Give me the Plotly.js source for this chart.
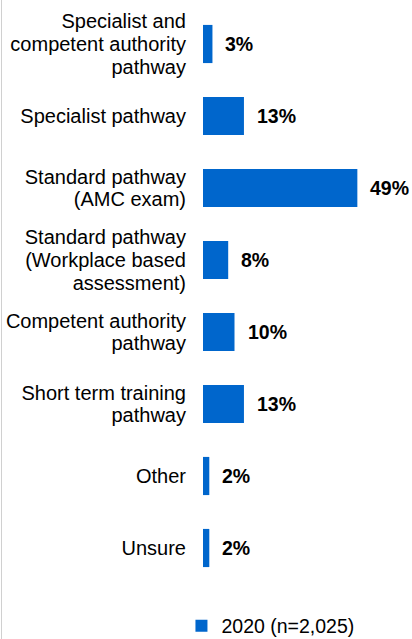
<!DOCTYPE html>
<html>
<head>
<meta charset="utf-8">
<script src="https://cdn.plot.ly/plotly-3.0.1.min.js"></script>
<style>
html,body{margin:0;padding:0;background:#fff;overflow:hidden;}
#wrap{position:relative;width:412px;height:639px;overflow:hidden;}
#chart{width:412px;height:670px;}
#edge{position:absolute;left:1px;top:0;width:1px;height:639px;background:#d0d0d0;}
</style>
</head>
<body>
<div id="wrap"><div id="chart"></div><div id="edge"></div></div>
<script>
const categories = [
  "Specialist and<br>competent authority<br>pathway",
  "Specialist pathway",
  "Standard pathway<br>(AMC exam)",
  "Standard pathway<br>(Workplace based<br>assessment)",
  "Competent authority<br>pathway",
  "Short term training<br>pathway",
  "Other",
  "Unsure"
];
const values2020 = [3, 13, 49, 8, 10, 13, 2, 2];
const seriesName = "2020 (n=2,025)";

const FONT = "Liberation Sans, Arial, sans-serif";

const trace = {
  type: "bar",
  orientation: "h",
  y: categories,
  x: values2020,
  name: seriesName,
  marker: {color: "#0066cc"},
  hoverinfo: "x+y",
  showlegend: true
};

const annotations = values2020.map((v, i) => ({
  x: v, y: categories[i], xref: "x", yref: "y",
  text: "<b>" + v + "%</b>",
  showarrow: false, xanchor: "left", yanchor: "middle", xshift: 11, yshift: 0,
  font: {family: FONT, size: 19.5, color: "#000"}
}));

// plot area: top 8, bottom 584 (576 px for 8 categories)
const layout = {
  width: 412, height: 670,
  margin: {l: 203, r: 20, t: 8, b: 86},
  paper_bgcolor: "#fff", plot_bgcolor: "#fff",
  bargap: 0.47,
  font: {family: FONT, size: 20, color: "#000"},
  xaxis: {range: [0, 60], visible: false, fixedrange: true},
  yaxis: {
    autorange: "reversed", type: "category",
    showline: false, showgrid: false, zeroline: false, ticks: "",
    ticklabelstandoff: 16,
    tickfont: {family: FONT, size: 20, color: "#000"}
  },
  showlegend: true,
  legend: {
    orientation: "h", x: -0.114, xanchor: "left", y: -0.073, yanchor: "middle",
    font: {family: FONT, size: 19.5, color: "#000"},
    itemwidth: 30, bgcolor: "rgba(0,0,0,0)"
  },
  annotations: annotations
};

function tightenLines(gd) {
  const ratio = 1.13, base = 1.3;
  const texts = gd.querySelectorAll("g.ytick text");
  texts.forEach(t => {
    const lines = t.querySelectorAll("tspan.line");
    const n = lines.length;
    if (n < 2) return;
    const shift = (n - 1) * (base - ratio) / 2;
    lines.forEach((ln, i) => {
      ln.setAttribute("dy", (i * ratio + shift) + "em");
    });
  });
}

Plotly.newPlot("chart", [trace], layout, {displayModeBar: false, staticPlot: true})
  .then(gd => tightenLines(gd));
</script>
</body>
</html>
